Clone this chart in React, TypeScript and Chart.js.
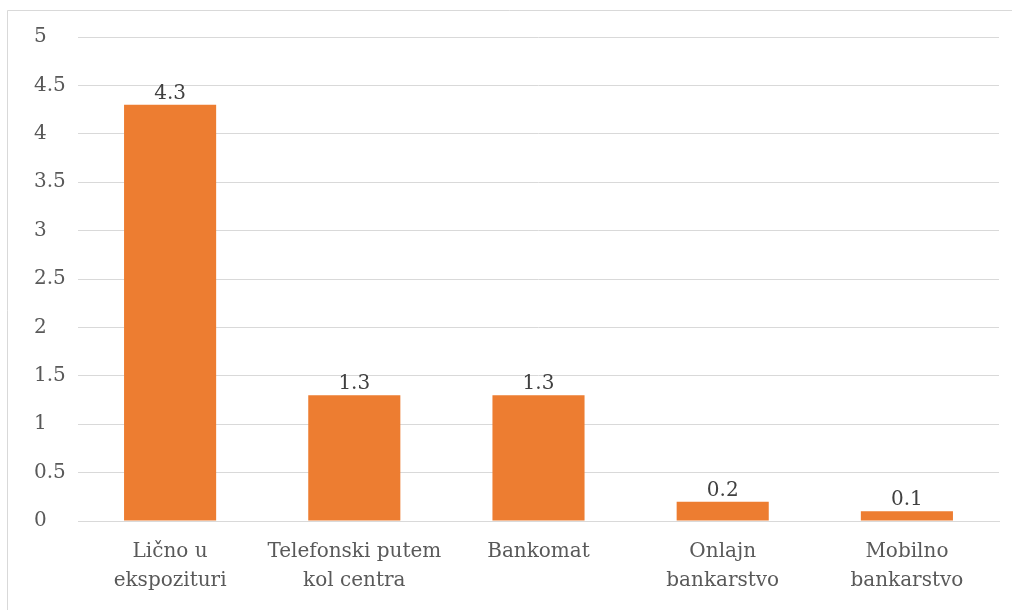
import React, { useEffect, useRef } from "react";
import { Chart, registerables } from "chart.js";

Chart.register(...registerables);

const categories: string[][] = [
  ["Lično u", "ekspozituri"],
  ["Telefonski putem", "kol centra"],
  ["Bankomat"],
  ["Onlajn", "bankarstvo"],
  ["Mobilno", "bankarstvo"],
];
const values: number[] = [4.3, 1.3, 1.3, 0.2, 0.1];
const yMin = 0;
const yMax = 5;
const yStep = 0.5;

const FONT = "'DejaVu Serif', serif";
const FS = 20;

const frame = {
  id: "frame",
  beforeDraw(chart: any) {
    const ctx = chart.ctx;
    ctx.save();
    ctx.fillStyle = "#ffffff";
    ctx.fillRect(0, 0, chart.width, chart.height);
    ctx.strokeStyle = "#d9d9d9";
    ctx.lineWidth = 1;
    ctx.beginPath();
    ctx.moveTo(7.5, chart.height);
    ctx.lineTo(7.5, 10.5);
    ctx.lineTo(chart.width, 10.5);
    ctx.stroke();
    ctx.restore();
  },
};

const valueLabels = {
  id: "valueLabels",
  afterDatasetsDraw(chart: any) {
    const ctx = chart.ctx;
    const meta = chart.getDatasetMeta(0);
    ctx.save();
    ctx.font = `${FS}px ${FONT}`;
    ctx.fillStyle = "#404040";
    ctx.textAlign = "center";
    ctx.textBaseline = "alphabetic";
    meta.data.forEach((bar: any, i: number) => {
      ctx.fillText(String(values[i]), bar.x, bar.y - 6);
    });
    ctx.restore();
  },
};

export default function App() {
  const ref = useRef<HTMLCanvasElement>(null);
  useEffect(() => {
    if (!ref.current) return;
    const chart = new Chart(ref.current, {
      type: "bar",
      data: {
        labels: categories,
        datasets: [
          {
            data: values,
            backgroundColor: "#ED7D31",
            borderWidth: 0,
            categoryPercentage: 1,
            barPercentage: 0.5,
          },
        ],
      },
      options: {
        responsive: false,
        animation: false,
        layout: { padding: { left: 34, right: 13, top: 37, bottom: 0 } },
        plugins: { legend: { display: false }, tooltip: { enabled: false } },
        scales: {
          x: {
            grid: { display: false, drawTicks: false },
            border: { display: true, color: "#d9d9d9", width: 1 },
            ticks: {
              color: "#595959",
              font: { family: FONT, size: FS, lineHeight: 29 / FS },
              padding: 16,
              maxRotation: 0,
              autoSkip: false,
            },
            afterFit(axis: any) {
              axis.height = 89;
            },
          },
          y: {
            min: yMin,
            max: yMax,
            grid: { color: "#d9d9d9", lineWidth: 1, drawTicks: false },
            border: { display: false },
            ticks: {
              stepSize: yStep,
              color: "#595959",
              font: { family: FONT, size: FS },
              crossAlign: "far",
              padding: 0,
              callback: (v: any) => String(v),
            },
            afterFit(axis: any) {
              axis.width = 44;
            },
          },
        },
      },
      plugins: [frame, valueLabels],
    });
    return () => chart.destroy();
  }, []);
  return (
    <div style={{ position: "absolute", left: 0, top: 0, width: 1012, height: 610 }}>
      <canvas ref={ref} width={1012} height={610} />
    </div>
  );
}
